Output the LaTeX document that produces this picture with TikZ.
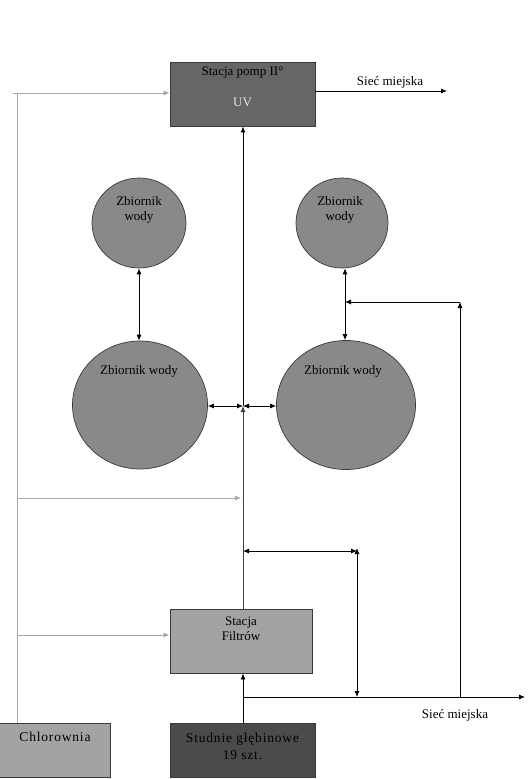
\documentclass[tikz,border=0pt]{standalone}
\usepackage{fontspec}
\setmainfont{Liberation Serif}
\usetikzlibrary{arrows.meta,shapes.geometric}
\definecolor{pompfill}{HTML}{666666}
\definecolor{tankfill}{HTML}{898989}
\definecolor{filtfill}{HTML}{A3A3A3}
\definecolor{studfill}{HTML}{4B4B4B}
\definecolor{edgecol}{HTML}{3A3A3A}
\definecolor{greyline}{HTML}{A8A8A8}
\begin{document}
\begin{tikzpicture}[x=1pt,y=-1pt,
  every node/.style={font=\fontsize{13}{15}\selectfont, inner sep=0pt},
  box/.style={draw=edgecol, line width=0.8pt, rectangle},
  tank/.style={draw=edgecol, line width=0.7pt, ellipse, fill=tankfill},
  txt/.style={text=black},
  wide/.style={font=\fontsize{13.5}{15}\addfontfeatures{LetterSpace=6}},
  arr/.style={line width=0.8pt, -{Latex[length=6pt,width=5pt]}},
  darr/.style={line width=0.8pt, {Latex[length=6pt,width=5pt]}-{Latex[length=6pt,width=5pt]}},
  garr/.style={greyline, line width=1pt, -{Latex[length=6pt,width=5pt]}},
  gline/.style={greyline, line width=1pt}]
\useasboundingbox[fill=white] (0,0) rectangle (530,779);

% boxes
\node[box, fill=pompfill, minimum width=145pt, minimum height=64pt] (pomp) at (242.5,94) {};
\node[txt] (pompt) at (242.5,73) {Stacja pomp II°};
\node[text=white!90!black] (uv) at (242.5,102) {UV};

\node[box, fill=filtfill, minimum width=142pt, minimum height=64pt] (filt) at (241,641) {};
\node[txt, align=center] (filtt) at (241,629) {Stacja\\[-0.5pt]Filtrów};

\node[box, fill=studfill, minimum width=145pt, minimum height=54pt] (stud) at (242.5,750) {};
\node[text=black, align=center, wide] (studt) at (242.5,746) {Studnie głębinowe\\[2pt]19 szt.};

\node[box, fill=filtfill, minimum width=111pt, minimum height=54pt] (chl) at (55,750) {};
\node[txt, wide] (chlt) at (55,737) {Chlorownia};

% tanks
\node[tank, minimum width=94pt, minimum height=90pt] (sl) at (139,223) {};
\node[txt, align=center] (slt) at (139,210) {Zbiornik\\wody};
\node[tank, minimum width=92pt, minimum height=90pt] (sr) at (342,223) {};
\node[txt, align=center] (srt) at (340,210) {Zbiornik\\wody};
\node[tank, minimum width=135pt, minimum height=128pt] (bl) at (140,405) {};
\node[txt] (blt) at (139,371) {Zbiornik wody};
\node[tank, minimum width=139pt, minimum height=129pt] (br) at (346,405) {};
\node[txt] (brt) at (343,371) {Zbiornik wody};

% labels
\node[txt] (net1) at (390,82) {Sieć miejska};
\node[txt] (net2) at (455,715) {Sieć miejska};

% coordinates
\coordinate (j) at (243,406);
\coordinate (b1) at (243,551);
\coordinate (r1) at (357,551);
\coordinate (r2) at (357,697);
\coordinate (s) at (243,697);
\coordinate (send) at (525,697);
\coordinate (q) at (460,697);
\coordinate (q2) at (460,302);
\coordinate (q3) at (345,302);
\coordinate (pout) at (447,91);
\coordinate (gv) at (17,93);
\coordinate (gs) at (13,93);
\coordinate (gm) at (17,498);
\coordinate (gme) at (241,498);
\coordinate (gf) at (17,635);

% grey chlorine lines
\draw[gline] (gv) -- (gv |- chl.north);
\draw[garr] (gs) -- (pomp.west |- gs);
\draw[garr] (gm) -- (gme);
\draw[garr] (gf) -- (filt.west |- gf);

% main vertical
\draw[arr, black!75] (j |- filt.north) -- (j);
\draw[arr] (j) -- (j |- pomp.south);
\draw[arr] (pomp.east |- pout) -- (pout);

% tank connections
\draw[darr] (sl.south) -- (sl.south |- bl.north);
\draw[darr] (sr.south -| q3) -- (q3 |- br.north);
\draw[darr] (bl.east |- j) -- (j);
\draw[darr] (j) -- (br.west |- j);

% lower right
\draw[darr] (b1) -- (r1);
\draw[darr] ([yshift=3pt]r1) -- (r2);
\draw[arr] (s) -- (send);
\draw[arr] (q) -- (q2);
\draw[arr] (q2) -- (q3);
\draw[arr] (stud.north -| s) -- (filt.south -| s);
\end{tikzpicture}
\end{document}
